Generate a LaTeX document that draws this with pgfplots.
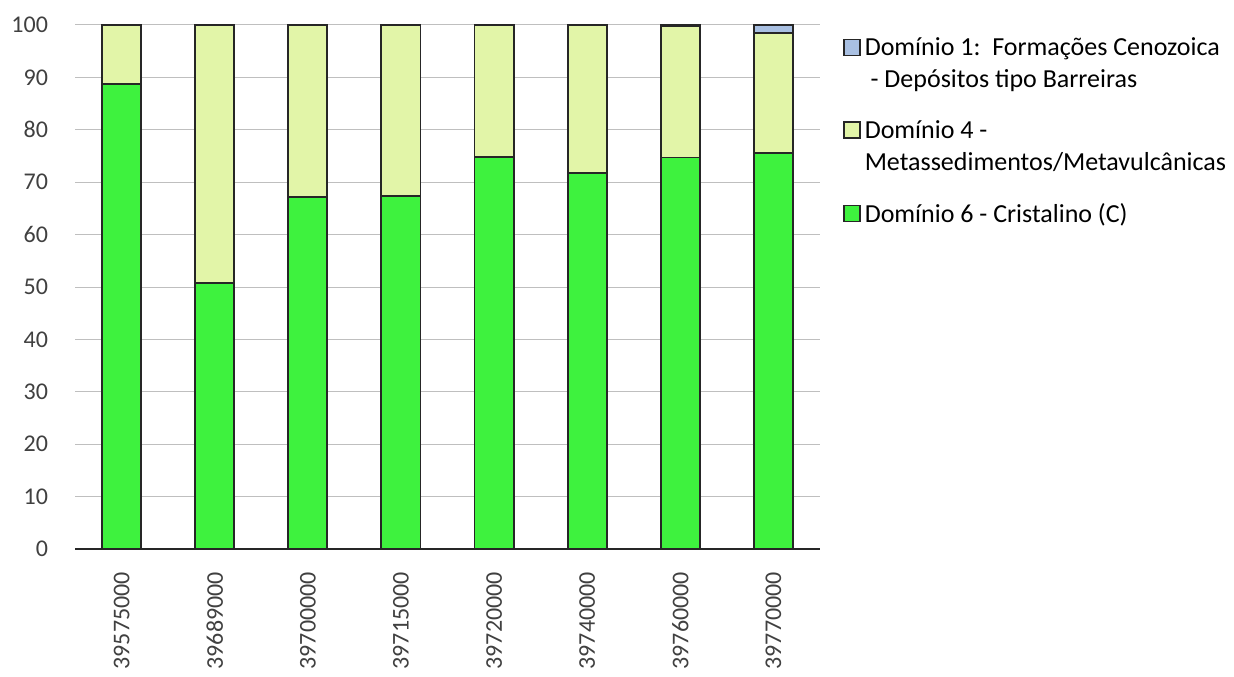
\documentclass[border=0pt]{standalone}
\usepackage{pgfplots}
\pgfplotsset{compat=1.18}
\usepackage{fontspec}
\setmainfont{Carlito}
\definecolor{gA}{HTML}{3EF23E}
\definecolor{gB}{HTML}{E2F5A8}
\definecolor{bC}{HTML}{A9C0E2}
\definecolor{edge}{HTML}{262626}
\definecolor{tick}{HTML}{404040}
\definecolor{grid}{HTML}{DDDDDD}
\begin{document}
\begin{tikzpicture}
\path (-37.5pt,-62pt) rectangle (579.5pt,274.5pt);
\begin{axis}[
  scale only axis,
  width=372.5pt, height=262pt,
  at={(0,0)}, anchor=south west,
  ybar stacked,
  bar width=0.42,
  xmin=-0.5, xmax=7.5,
  ymin=0, ymax=100,
  ytick={0,10,...,100},
  xtick={0,...,7},
  xticklabels={39575000,39689000,39700000,39715000,39720000,39740000,39760000,39770000},
  axis x line*=bottom,
  axis y line*=left,
  x axis line style={draw=edge, line width=0.9pt, -},
  y axis line style={draw=none},
  ymajorgrids,
  grid style={grid, line width=0.5pt},
  major tick length=0pt,
  /pgf/number format/assume math mode=true,
  tick label style={font=\fontsize{12}{14}\selectfont, text=tick},
  yticklabel style={xshift=-10pt},
  xticklabel style={yshift=-8pt, rotate=90, anchor=east},
  every axis plot/.append style={draw=edge, line width=0.9pt},
  legend style={at={(1.03,0.985)}, anchor=north west, draw=none,
    inner sep=0.5pt, outer sep=0pt,
    font=\fontsize{13}{16}\selectfont, text=black,
    cells={anchor=west, align=left}, row sep=11pt},
  reverse legend,
]
\addplot[fill=gA, draw=edge, legend image code/.code={\draw[fill=gA,draw=edge,line width=0.7pt] (0pt,-3.5pt) rectangle (8pt,4.5pt);}] coordinates {(0,88.7) (1,50.7) (2,67.1) (3,67.4) (4,74.8) (5,71.7) (6,74.7) (7,75.6)};
\addplot[fill=gB, draw=edge, legend image code/.code={\draw[fill=gB,draw=edge,line width=0.7pt] (0pt,4.5pt) rectangle (8pt,12.5pt);}] coordinates {(0,11.3) (1,49.3) (2,32.9) (3,32.6) (4,25.2) (5,28.3) (6,25.0) (7,22.9)};
\addplot[fill=bC, draw=edge, legend image code/.code={\draw[fill=bC,draw=edge,line width=0.7pt] (0pt,4.5pt) rectangle (8pt,12.5pt);}] coordinates {(0,0) (1,0) (2,0) (3,0) (4,0) (5,0) (6,0.3) (7,1.5)};
\legend{Domínio 6 - Cristalino (C),{Domínio 4 -\\Metassedimentos/Metavulcânicas},{Domínio 1:\ \ Formações Cenozoica\\\ - Depósitos tipo Barreiras}}
\end{axis}
\end{tikzpicture}
\end{document}
